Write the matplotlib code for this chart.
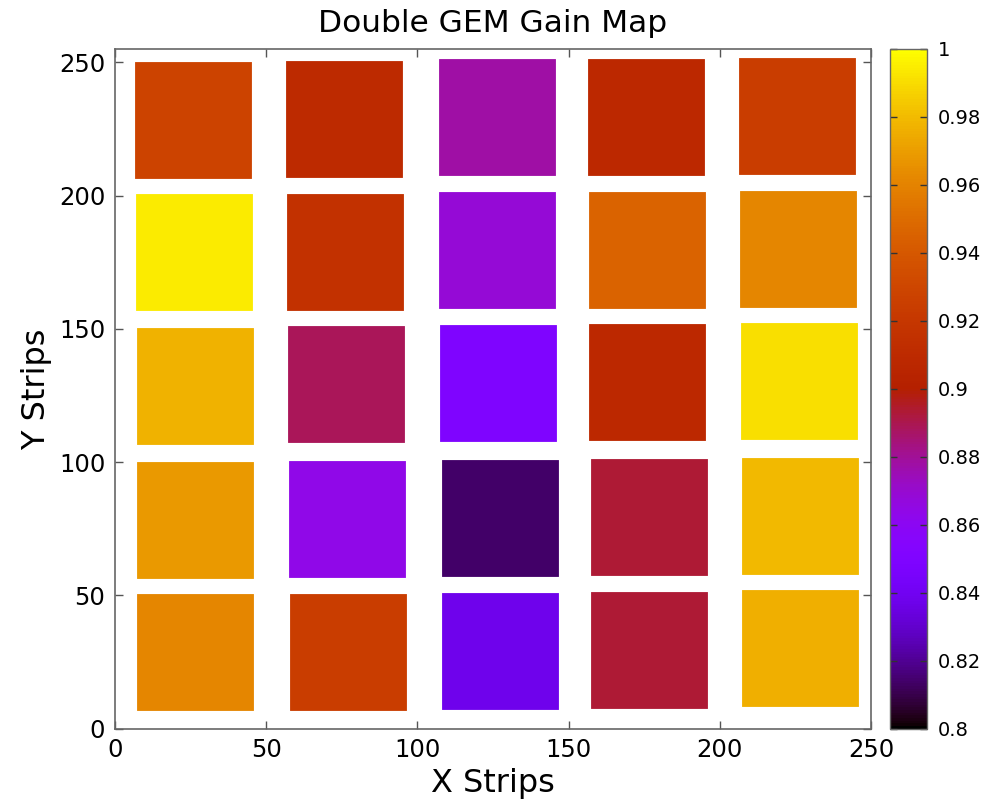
import numpy as np
import matplotlib
matplotlib.use("Agg")
import matplotlib.pyplot as plt
from matplotlib.ticker import FuncFormatter

# Square centres (X strips, Y strips) and gain values, row by row from top
x_pos = [25.8, 75.7, 126.3, 175.5, 225.5,
         26.1, 76.0, 126.3, 175.8, 225.8,
         26.3, 76.3, 126.6, 175.8, 226.1,
         26.6, 76.6, 127.2, 176.5, 226.4,
         26.6, 76.9, 127.2, 176.5, 226.4]
y_pos = [228.4, 228.8, 229.4, 229.5, 229.9,
         178.7, 178.7, 179.4, 179.7, 180.1,
         128.6, 129.3, 129.7, 130.1, 130.4,
         78.4, 78.8, 79.1, 79.5, 79.9,
         28.7, 28.7, 29.0, 29.5, 30.2]
gain = [0.928, 0.910, 0.878, 0.908, 0.924,
        0.994, 0.915, 0.868, 0.946, 0.961,
        0.977, 0.889, 0.850, 0.908, 0.991,
        0.968, 0.864, 0.814, 0.893, 0.979,
        0.961, 0.924, 0.838, 0.893, 0.976]

x_ticks = [0, 50, 100, 150, 200, 250]
y_ticks = [0, 50, 100, 150, 200, 250]
cb_ticks = [0.8, 0.82, 0.84, 0.86, 0.88, 0.9, 0.92, 0.94, 0.96, 0.98, 1.0]

plt.rcParams['font.family'] = ['DejaVu Sans']

fig = plt.figure(figsize=(9.86, 8.01), dpi=100)
W, H = 986, 801
ax = fig.add_axes([115 / W, 1 - 728.5 / H, (871 - 115) / W, (728.5 - 49) / H])
cax = fig.add_axes([890 / W, 1 - 728.5 / H, (927 - 890) / W, (728.5 - 49) / H])

sc = ax.scatter(x_pos, y_pos, c=gain, cmap='gnuplot', vmin=0.8, vmax=1.0,
                marker='s', s=83.5 ** 2, linewidths=0.6, edgecolors='face',
                alpha=1.0)

ax.set_xlim(0, 250)
ax.set_ylim(0, 255)
ax.set_xticks(x_ticks)
ax.set_yticks(y_ticks)
ax.tick_params(direction='in', length=6, width=1, colors='#555555',
               labelcolor='black', labelsize=17.5, top=True, right=True, pad=7)
for s in ax.spines.values():
    s.set_color('#666666')
    s.set_linewidth(1.2)

ax.set_title('Double GEM Gain Map', fontsize=22.5, pad=12)
ax.set_xlabel('X Strips', fontsize=23, labelpad=4)
ax.set_ylabel('Y Strips', fontsize=23, labelpad=5)

cb = fig.colorbar(sc, cax=cax)
cb.set_ticks(cb_ticks)
cb.ax.yaxis.set_major_formatter(FuncFormatter(lambda v, p: f'{v:g}'))
cb.ax.tick_params(direction='in', length=5, width=1, colors='#333333',
                  labelcolor='black', labelsize=14, left=True, right=True, pad=8)
cb.outline.set_edgecolor('#666666')
cb.outline.set_linewidth(1.0)

fig.savefig('out.png', dpi=100)
